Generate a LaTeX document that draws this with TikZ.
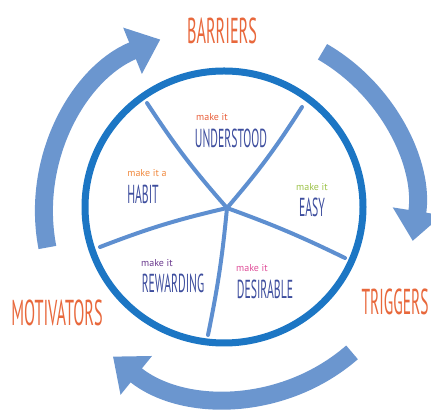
\documentclass[tikz,border=0pt]{standalone}
\usepackage{fontspec}
\setmainfont{PT Sans}
\usepackage{graphicx}
\usepackage{xcolor}
\usepackage{tikz}
\usetikzlibrary{arrows.meta}

\definecolor{loopblue}{HTML}{6B96CF}
\definecolor{rimblue}{HTML}{1C76C4}
\definecolor{spokeblue}{HTML}{5E8FD0}
\definecolor{wordblue}{HTML}{3E4E9E}
\definecolor{stageorange}{HTML}{E8683C}
\definecolor{tagred}{HTML}{E8603C}
\definecolor{tagorange}{HTML}{F08A40}
\definecolor{taggreen}{HTML}{9DC24A}
\definecolor{tagpurple}{HTML}{6A3A8E}
\definecolor{tagpink}{HTML}{E0509A}

\newcommand{\narrow}[1]{\scalebox{0.45}[1]{#1}}

\begin{document}
\begin{tikzpicture}[x=1pt,y=1pt,
  word/.style={font=\fontsize{26}{26}\selectfont, text=wordblue, inner sep=0pt},
  tag/.style={font=\fontsize{10}{10}\selectfont, inner sep=0pt},
  stage/.style={font=\fontsize{36}{36}\selectfont, text=stageorange, inner sep=0pt},
  loop/.style={loopblue, line width=18pt, -{Triangle[length=30pt,width=48pt]}},
  spoke/.style={spokeblue, line width=4pt, line cap=round}]
\useasboundingbox (0,0) rectangle (431,411);
\coordinate (c) at (230,199);
\coordinate (hub) at (227,203);

% the three arrows round the wheel
\draw[loop] (c) ++(191:186) arc[start angle=191, end angle=112, radius=186];
\draw[loop] (c) ++(60:185) arc[start angle=60, end angle=-9, radius=185];
\draw[loop] (c) ++(-49:186) arc[start angle=-49, end angle=-129, radius=186];

% wheel
\coordinate (s1) at (147,308);
\coordinate (s2) at (302,304);
\coordinate (s3) at (345,153);
\coordinate (s4) at (208,76);
\coordinate (s5) at (100,164);
\draw[spoke] (hub) to[bend left=4] (s1);
\draw[spoke] (hub) to[bend right=4] (s2);
\draw[spoke] (hub) to[bend left=3] (s3);
\draw[spoke] (hub) to[bend left=3] (s4);
\draw[spoke] (hub) to[bend right=4] (s5);
\draw[rimblue, line width=7pt] (224,204) ellipse [x radius=139, y radius=136];

% segments
\node[tag, text=tagred] (tagund) at (212,294) {make it};
\node[word] (und) at (231,273) {\narrow{UNDERSTOOD}};
\node[tag, text=tagorange] (taghab) at (147,238) {make it a};
\node[word] (hab) at (143,217) {\narrow{HABIT}};
\node[tag, text=taggreen] (tageas) at (312,224) {make it};
\node[word] (eas) at (312,204) {\narrow{EASY}};
\node[tag, text=tagpurple] (tagrew) at (157,148) {make it};
\node[word] (rew) at (173,128) {\narrow{REWARDING}};
\node[tag, text=tagpink] (tagdes) at (252,143) {make it};
\node[word] (des) at (265,122) {\narrow{DESIRABLE}};

% stages
\node[stage] (barriers) at (222,380) {\narrow{BARRIERS}};
\node[stage] (motivators) at (57,98) {\narrow{MOTIVATORS}};
\node[stage] (triggers) at (395,109) {\scalebox{0.43}[1]{TRIGGERS}};
\end{tikzpicture}
\end{document}
